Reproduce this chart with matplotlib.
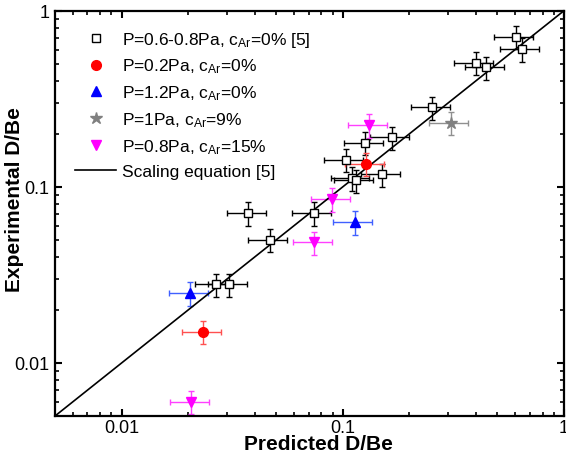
import numpy as np
import matplotlib
matplotlib.use("Agg")
import matplotlib.pyplot as plt

plt.rcParams['font.family'] = ['Liberation Sans', 'DejaVu Sans']
plt.rcParams['mathtext.fontset'] = 'custom'
plt.rcParams['mathtext.rm'] = 'Liberation Sans'
plt.rcParams['mathtext.it'] = 'Liberation Sans:italic'
plt.rcParams['mathtext.bf'] = 'Liberation Sans:bold'

# ---- data (predicted, experimental D/Be) ----
sq_x = [0.0373, 0.0739, 0.0468, 0.0267, 0.0306, 0.1266, 0.1665, 0.103, 0.110, 0.1145,
        0.1505, 0.605, 0.644, 0.399, 0.446, 0.253]
sq_y = [0.0709, 0.0709, 0.050, 0.0280, 0.0280, 0.178, 0.191, 0.142, 0.112, 0.109,
        0.1176, 0.711, 0.605, 0.506, 0.477, 0.2825]

red_x = [0.1273, 0.0234]
red_y = [0.135, 0.0150]

blue_x = [0.1133, 0.0204]
blue_y = [0.063, 0.0249]

star_x = [0.3077]
star_y = [0.231]

mag_x = [0.132, 0.0895, 0.0742, 0.0207]
mag_y = [0.224, 0.0851, 0.0483, 0.0060]

x_rel_err = 0.20
y_rel_err = 0.15

labels = ['P=0.6-0.8Pa, c$_{\\mathrm{Ar}}$=0% [5]',
          'P=0.2Pa, c$_{\\mathrm{Ar}}$=0%',
          'P=1.2Pa, c$_{\\mathrm{Ar}}$=0%',
          'P=1Pa, c$_{\\mathrm{Ar}}$=9%',
          'P=0.8Pa, c$_{\\mathrm{Ar}}$=15%',
          'Scaling equation [5]']
xticks = [0.01, 0.1, 1]
xtick_labels = ['0.01', '0.1', '1']
yticks = [0.01, 0.1, 1]
ytick_labels = ['0.01', '0.1', '1']
lim = (0.005, 1.0)

fig = plt.figure(figsize=(5.66, 4.60), dpi=100)
ax = fig.add_axes([0.0972, 0.0935, 0.8993, 0.8811])

series = [
    (sq_x, sq_y, 's', 'white', 'black', 'black', 6, labels[0]),
    (red_x, red_y, 'o', 'red', 'red', '#ff5050', 7, labels[1]),
    (blue_x, blue_y, '^', 'blue', 'blue', '#4060ff', 7.5, labels[2]),
    (star_x, star_y, '*', 'gray', 'gray', '#909090', 9, labels[3]),
    (mag_x, mag_y, 'v', 'magenta', 'magenta', '#ff40ff', 7.5, labels[4]),
]

for xs, ys, mk, fc, ec, errc, ms, lab in series:
    xs = np.array(xs); ys = np.array(ys)
    ax.errorbar(xs, ys, xerr=x_rel_err * xs, yerr=y_rel_err * ys, fmt='none',
                ecolor=errc, elinewidth=1.0, capsize=2.5, capthick=1.0, zorder=2)
    ax.plot(xs, ys, linestyle='none', marker=mk, markersize=ms,
            markerfacecolor=fc, markeredgecolor=ec, markeredgewidth=1.0,
            label=lab, zorder=3)

ax.plot(lim, lim, color='black', linewidth=1.2, label=labels[5], zorder=2.5)

ax.set_xscale('log')
ax.set_yscale('log')
ax.set_xlim(lim)
ax.set_ylim(lim)
ax.set_xticks(xticks)
ax.set_xticklabels(xtick_labels)
ax.set_yticks(yticks)
ax.set_yticklabels(ytick_labels)

ax.tick_params(which='both', direction='in', top=True, right=True, labelsize=13)
ax.tick_params(which='major', length=5, width=1.5)
ax.tick_params(which='minor', length=3, width=1.2)
ax.tick_params(axis='x', which='major', pad=2)
ax.tick_params(axis='y', which='major', pad=4)
for s in ax.spines.values():
    s.set_linewidth(1.6)

ax.set_xlabel('Predicted D/Be', fontsize=15, fontweight='bold')
ax.set_ylabel('Experimental D/Be', fontsize=15, fontweight='bold')
ax.xaxis.set_label_coords(0.517, -0.045)
ax.yaxis.set_label_coords(-0.060, 0.537)

ax.legend(loc='upper left', bbox_to_anchor=(0.025, 0.97), frameon=False, fontsize=12.5,
          handlelength=2.4, handletextpad=0.3, labelspacing=0.46, borderaxespad=0.0)

fig.savefig('out.png', dpi=100)
